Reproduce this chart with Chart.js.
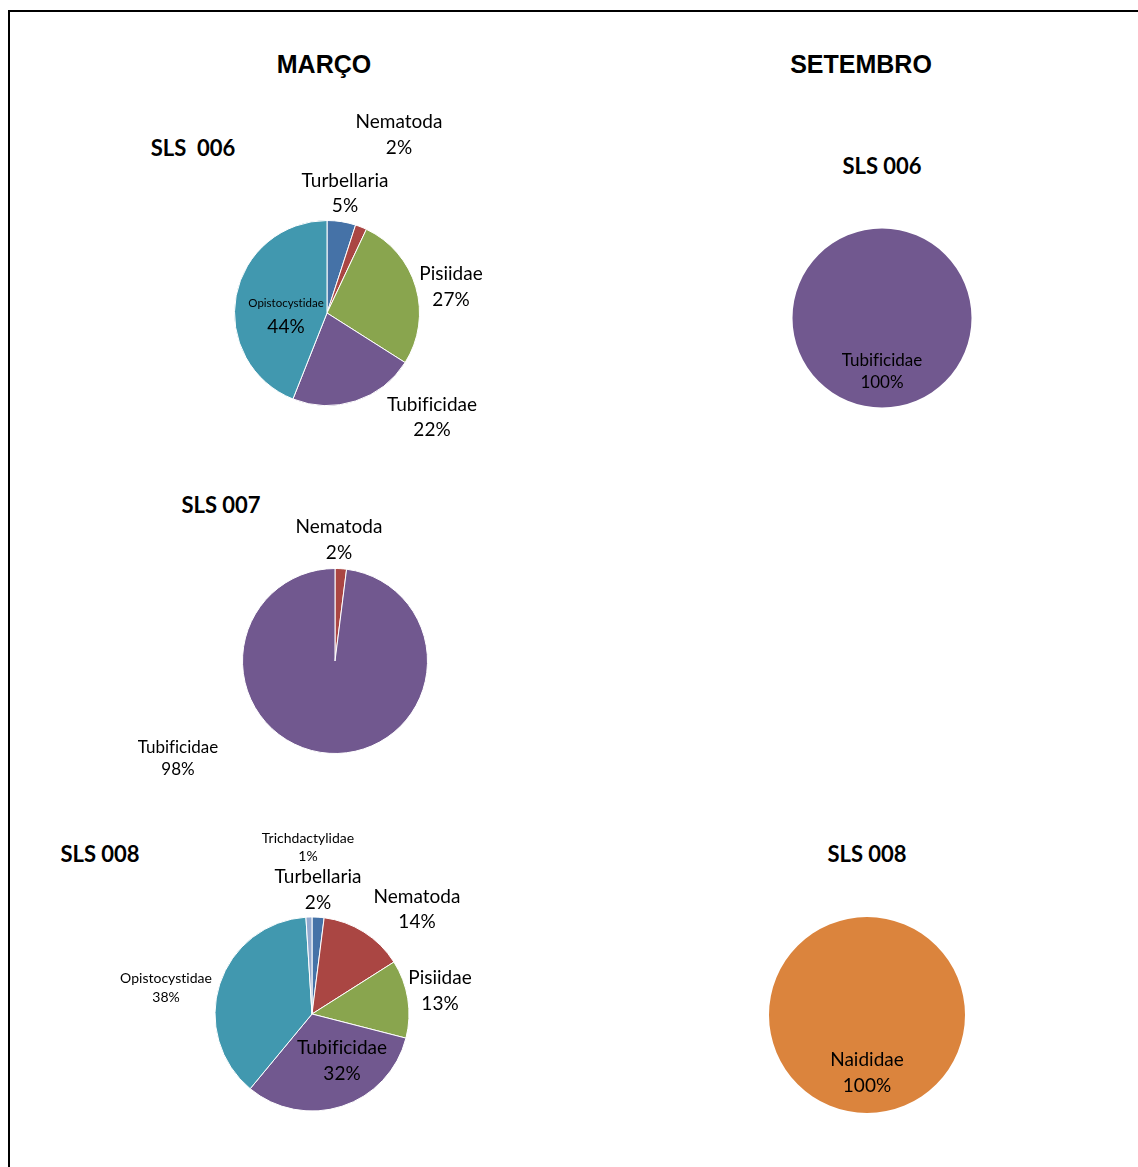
<!DOCTYPE html>
<html>
<head>
<meta charset="utf-8">
<title>Macroinvertebrados - SLS</title>
<script src="https://cdn.jsdelivr.net/npm/chart.js@4.4.1/dist/chart.umd.min.js"></script>
<style>
    html, body { margin: 0; padding: 0; background: #fff; overflow: hidden; }
    body { width: 1138px; height: 1167px; position: relative; }
    .frame {
        position: absolute; left: 8px; top: 10px; width: 1300px; height: 1300px;
        border-left: 2px solid #000; border-top: 2px solid #000;
    }
    .month, .site {
        position: absolute; white-space: pre; line-height: 1;
        transform: translate(-50%, -50%); color: #000;
    }
    .month { font-family: "Liberation Sans", Arial, sans-serif; font-weight: bold; font-size: 25px; }
    .site { font-family: Lato, "Open Sans", sans-serif; font-weight: bold; font-size: 22px; }
    .pie { position: absolute; }
</style>
</head>
<body>
<div class="frame"></div>

<div class="month" style="left:324px; top:64px;">MARÇO</div>
<div class="month" style="left:861px; top:64px;">SETEMBRO</div>

<div class="site" style="left:193px; top:148px;">SLS  006</div>
<div class="site" style="left:221px; top:505px;">SLS 007</div>
<div class="site" style="left:100px; top:854px;">SLS 008</div>
<div class="site" style="left:882px; top:166px;">SLS 006</div>
<div class="site" style="left:867px; top:854px;">SLS 008</div>

<canvas id="marco006" class="pie" width="460" height="460"></canvas>
<canvas id="marco007" class="pie" width="460" height="460"></canvas>
<canvas id="marco008" class="pie" width="460" height="460"></canvas>
<canvas id="setembro006" class="pie" width="460" height="460"></canvas>
<canvas id="setembro008" class="pie" width="460" height="460"></canvas>

<script>
// taxa in series order (slices run clockwise from 12 o'clock)
var taxa = ['Turbellaria', 'Nematoda', 'Pisiidae', 'Tubificidae', 'Opistocystidae', 'Naididae', 'Trichdactylidae'];
var taxonColors = ['#4572A7', '#AA4643', '#89A54E', '#71588F', '#4198AF', '#DB843D', '#93A9CF'];

// relative abundance (%) per station
var marco006 = [5, 2, 27, 22, 44, 0, 0];
var marco007 = [0, 2, 0, 98, 0, 0, 0];
var marco008 = [2, 14, 13, 32, 38, 0, 1];
var setembro006 = [0, 0, 0, 100, 0, 0, 0];
var setembro008 = [0, 0, 0, 0, 0, 100, 0];

var BOX = 460;

// label placement per slice: offset of the name line from the pie centre,
// distance to the percent line, and font sizes
function spot(dx, dy, gap, nameSize, pctSize) {
    return { dx: dx, dy: dy + 1, gap: gap, nameSize: nameSize, pctSize: pctSize || nameSize };
}

var sliceLabelsPlugin = {
    id: 'sliceLabels',
    afterDatasetsDraw: function (chart, args, opts) {
        var ctx = chart.ctx;
        var meta = chart.getDatasetMeta(0);
        var values = chart.data.datasets[0].data;
        var spots = opts.spots || [];
        ctx.save();
        ctx.fillStyle = '#000';
        ctx.textAlign = 'center';
        ctx.textBaseline = 'middle';
        // tiny spacing keeps "fi" from turning into a ligature
        if ('letterSpacing' in ctx) { ctx.letterSpacing = '0.01px'; }
        for (var i = 0; i < values.length; i++) {
            var s = spots[i];
            if (!s || !values[i]) { continue; }
            var arc = meta.data[i];
            var x = arc.x + s.dx, y = arc.y + s.dy;
            ctx.font = s.nameSize + 'px Lato, "Open Sans", sans-serif';
            ctx.fillText(chart.data.labels[i], x, y);
            ctx.font = s.pctSize + 'px Lato, "Open Sans", sans-serif';
            ctx.fillText(values[i] + '%', x, y + s.gap);
        }
        ctx.restore();
    }
};

function makePie(id, cx, cy, radius, values, spots) {
    var el = document.getElementById(id);
    el.style.left = (cx - BOX / 2) + 'px';
    el.style.top = (cy - BOX / 2) + 'px';
    var pad = BOX / 2 - radius - 0.5;
    return new Chart(el.getContext('2d'), {
        type: 'pie',
        data: {
            labels: taxa,
            datasets: [{
                data: values,
                backgroundColor: taxonColors,
                borderColor: '#fff',
                borderWidth: function (c) { return (c.raw > 0 && c.raw < 100) ? 1 : 0; }
            }]
        },
        options: {
            responsive: false,
            animation: false,
            events: [],
            layout: { padding: pad },
            plugins: {
                legend: { display: false },
                tooltip: { enabled: false },
                sliceLabels: { spots: spots }
            }
        },
        plugins: [sliceLabelsPlugin]
    });
}

makePie('marco006', 327, 313, 92.5, marco006, [
    spot(18, -133, 25, 19),
    spot(72, -192, 26, 19),
    spot(124, -40, 26, 19),
    spot(105, 91, 25, 19),
    spot(-41, -11, 24, 11.5, 19)
]);

makePie('marco007', 335, 661, 92.5, marco007, [
    null,
    spot(4, -135, 26, 19),
    null,
    spot(-157, 86, 22, 17)
]);

makePie('marco008', 312, 1014, 97, marco008, [
    spot(6, -138, 26, 19),
    spot(105, -118, 25, 19),
    spot(128, -37, 26, 19),
    spot(30, 33, 26, 19),
    spot(-146, -37, 19, 14),
    null,
    spot(-4, -177, 18, 14)
]);

makePie('setembro006', 882, 318, 89, setembro006, [
    null, null, null,
    spot(0, 42, 22, 17)
]);

makePie('setembro008', 867, 1015, 97.5, setembro008, [
    null, null, null, null, null,
    spot(0, 44, 26, 19)
]);
</script>
</body>
</html>
